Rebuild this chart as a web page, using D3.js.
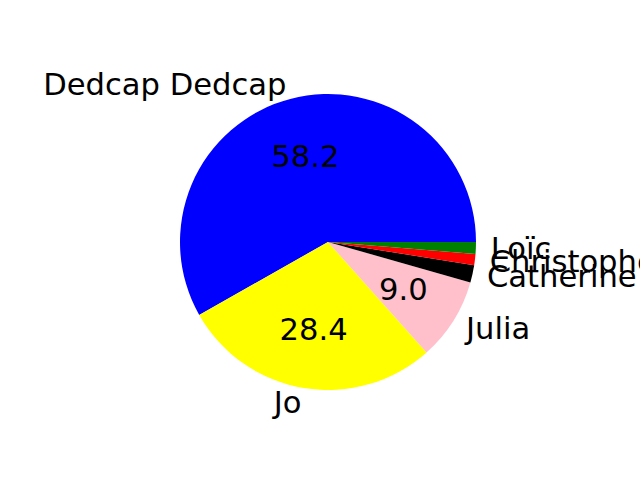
<!DOCTYPE html>
<html>
<head>
<meta charset="utf-8">
<script src="https://cdn.jsdelivr.net/npm/d3@7"></script>
<style>
html,body{margin:0;padding:0;background:#fff;}
svg{display:block;}
text{font-family:"DejaVu Sans",sans-serif;}
</style>
</head>
<body>
<script>
const labels = ["Dedcap Dedcap", "Jo", "Julia", "Catherine", "Christophe", "Loïc"];
const values = [58.2, 28.4, 9.0, 1.9, 1.2, 1.3];
const colors = ["blue", "yellow", "pink", "black", "red", "green"];

const W = 640, H = 480;
const cx = 328, cy = 242, R = 148;
const fontSize = 30.6;

const svg = d3.select("body").append("svg").attr("width", W).attr("height", H);
const g = svg.append("g").attr("transform", `translate(${cx},${cy})`);

const pie = d3.pie().sort(null).value(d => d.v)
  .startAngle(Math.PI / 2).endAngle(Math.PI / 2 - 2 * Math.PI);
const data = labels.map((l, i) => ({label: l, v: values[i], color: colors[i]}));
const arcs = pie(data);
const total = d3.sum(values);
const arc = d3.arc().innerRadius(0).outerRadius(R);

g.selectAll("path.slice").data(arcs).join("path")
  .attr("class", "slice")
  .attr("d", arc)
  .attr("fill", d => d.data.color);

function pos(d, f) {
  const a = (d.startAngle + d.endAngle) / 2;
  return [f * R * Math.sin(a), -f * R * Math.cos(a)];
}

g.selectAll("text.lbl").data(arcs).join("text")
  .attr("class", "lbl")
  .attr("x", d => pos(d, 1.1)[0])
  .attr("y", d => pos(d, 1.1)[1])
  .attr("dy", "0.34em")
  .attr("text-anchor", d => pos(d, 1.1)[0] > 0 ? "start" : "end")
  .attr("font-size", fontSize)
  .attr("fill", "black")
  .text(d => d.data.label);

g.selectAll("text.pct").data(arcs.filter(d => d.data.v / total * 100 > 5)).join("text")
  .attr("class", "pct")
  .attr("x", d => pos(d, 0.6)[0])
  .attr("y", d => pos(d, 0.6)[1])
  .attr("dy", "0.34em")
  .attr("text-anchor", "middle")
  .attr("font-size", fontSize)
  .attr("fill", "black")
  .text(d => (d.data.v / total * 100).toFixed(1));
</script>
</body>
</html>
